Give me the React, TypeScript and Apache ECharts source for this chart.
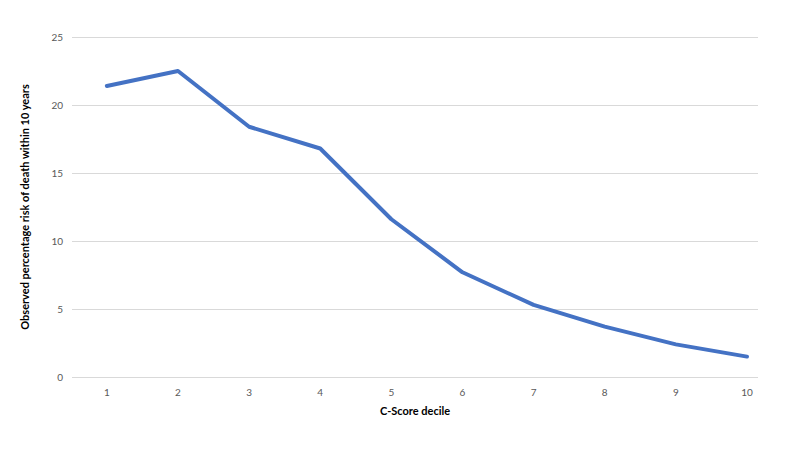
import React, { useEffect, useRef } from "react";
import * as echarts from "echarts";

const deciles = [1, 2, 3, 4, 5, 6, 7, 8, 9, 10];
const risk = [21.4, 22.5, 18.4, 16.8, 11.6, 7.7, 5.3, 3.7, 2.4, 1.5];
const yTicks = [0, 5, 10, 15, 20, 25];

export default function App() {
  const ref = useRef<HTMLDivElement>(null);
  useEffect(() => {
    if (!ref.current) return;
    const chart = echarts.init(ref.current, null, { renderer: "svg" });
    const font = "Lato, 'Open Sans', sans-serif";
    chart.setOption({
      animation: false,
      backgroundColor: "#ffffff",
      textStyle: { fontFamily: font },
      grid: { left: 72, right: 42, top: 37, bottom: 75, containLabel: false },
      xAxis: {
        type: "value",
        min: 0.51,
        max: 10.155,
        name: "C-Score decile",
        nameLocation: "middle",
        nameGap: 28,
        nameTextStyle: { fontFamily: font, fontWeight: "bold", fontSize: 11, color: "#000" },
        axisLine: { show: false },
        axisTick: { show: false },
        splitLine: { show: false },
        axisLabel: {
          customValues: deciles,
          color: "#595959",
          fontSize: 10,
          margin: 10,
          fontFamily: font,
        },
      },
      yAxis: {
        type: "value",
        min: yTicks[0],
        max: yTicks[yTicks.length - 1],
        interval: 5,
        name: "Observed percentage risk of death within 10 years",
        nameLocation: "middle",
        nameGap: 42,
        nameRotate: 90,
        nameTextStyle: { fontFamily: font, fontWeight: "bold", fontSize: 11, color: "#000" },
        axisLine: { show: false },
        axisTick: { show: false },
        splitLine: { show: true, lineStyle: { color: "#d9d9d9", width: 1 } },
        axisLabel: { color: "#595959", fontSize: 10, margin: 9, fontFamily: font },
      },
      series: [
        {
          type: "line",
          data: deciles.map((d, i) => [d, risk[i]]),
          showSymbol: false,
          symbol: "none",
          lineStyle: { color: "#4472C4", width: 4, cap: "round", join: "round" },
          itemStyle: { color: "#4472C4" },
        },
      ],
    });
    return () => chart.dispose();
  }, []);
  return <div ref={ref} style={{ width: 800, height: 452, margin: -8 }} />;
}
